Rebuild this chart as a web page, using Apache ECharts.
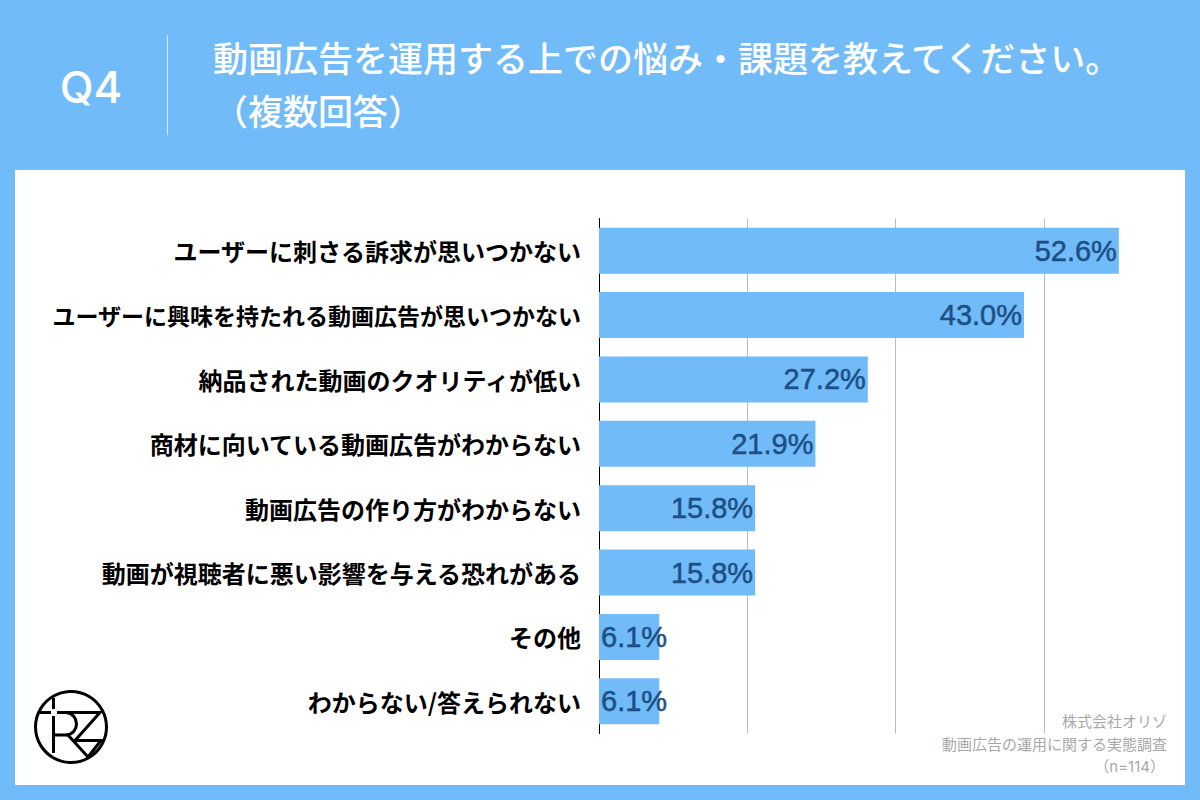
<!DOCTYPE html>
<html lang="ja">
<head>
<meta charset="utf-8">
<title>Q4</title>
<style>
html,body{margin:0;padding:0;background:#72bbf9;}
#drawChart{width:1200px;height:800px;}
</style>
<script src="https://cdn.jsdelivr.net/npm/echarts@6/dist/echarts.min.js"></script>
</head>
<body>
<div id="drawChart"></div>
<script>
//データ
var categories = [
    'ユーザーに刺さる訴求が思いつかない',
    'ユーザーに興味を持たれる動画広告が思いつかない',
    '納品された動画のクオリティが低い',
    '商材に向いている動画広告がわからない',
    '動画広告の作り方がわからない',
    '動画が視聴者に悪い影響を与える恐れがある',
    'その他',
    'わからない/答えられない'
];
var values = [52.6, 43.0, 27.2, 21.9, 15.8, 15.8, 6.1, 6.1];
var tickStep = 15;
var tickMax = 60;
var titleText = '動画広告を運用する上での悩み・課題を教えてください。\n（複数回答）';
var footLines = ['株式会社オリゾ', '動画広告の運用に関する実態調査', '（n=114）'];

var blue = '#72bbf9';
var cjk = '"Noto Sans CJK JP","Noto Sans",sans-serif';

var myChart = echarts.init(document.getElementById('drawChart'), null, {renderer: 'svg'});

//小さい棒はラベルを左寄せにする
var barData = values.map(function (v) {
    return {
        value: v,
        label: v < 10 ? {position: 'insideLeft', distance: 2} : {position: 'insideRight', distance: 2}
    };
});

var option = {
    backgroundColor: blue,
    animation: false,
    title: {
        text: titleText,
        left: 208,
        top: 25,
        textStyle: {color: '#fff', fontFamily: cjk, fontSize: 35, fontWeight: 500, lineHeight: 53}
    },
    grid: {left: 599, top: 218.5, width: 593, height: 515},
    xAxis: {
        type: 'value',
        min: 0,
        max: tickMax,
        interval: tickStep,
        axisLabel: {show: false},
        axisLine: {show: false},
        axisTick: {show: false},
        splitLine: {show: true, showMinLine: false, showMaxLine: false, lineStyle: {color: '#bcbcbc', width: 1}}
    },
    yAxis: {
        type: 'category',
        inverse: true,
        data: categories,
        axisLine: {lineStyle: {color: '#000', width: 1}},
        axisTick: {show: false},
        axisLabel: {
            color: '#000',
            fontFamily: cjk,
            fontSize: 24,
            fontWeight: 'bold',
            margin: 18,
            //一番長いラベルだけ少し小さい
            formatter: function (v) {
                return v.length > 22 ? '{tight|' + v + '}' : v;
            },
            rich: {
                tight: {color: '#000', fontFamily: cjk, fontSize: 23, fontWeight: 'bold'}
            }
        }
    },
    series: [{
        type: 'bar',
        data: barData,
        barWidth: 46,
        itemStyle: {color: blue},
        label: {
            show: true,
            color: '#1c4f86',
            fontFamily: '"Liberation Sans",sans-serif',
            fontSize: 29,
            textBorderColor: '#1c4f86',
            textBorderWidth: 0.5,
            formatter: function (p) { return p.value.toFixed(1) + '%'; }
        }
    }],
    graphic: [
        //白いカード
        {type: 'rect', z: -10, shape: {x: 15, y: 170, width: 1170, height: 615}, style: {fill: '#fff'}},
        {type: 'text', x: 91, y: 87, style: {text: 'Q4', fill: '#fff', font: '500 44px "Inter","Liberation Sans",sans-serif', textAlign: 'center', textVerticalAlign: 'middle'}},
        {type: 'line', shape: {x1: 167.5, y1: 35, x2: 167.5, y2: 135}, style: {stroke: '#d8ecfd', lineWidth: 1}},
        //注記
        {type: 'text', x: 1167, y: 720, style: {text: footLines[0], fill: '#a8a8a8', font: '15px ' + cjk, textAlign: 'right', textVerticalAlign: 'middle'}},
        {type: 'text', x: 1167, y: 743, style: {text: footLines[1], fill: '#a8a8a8', font: '15px ' + cjk, textAlign: 'right', textVerticalAlign: 'middle'}},
        {type: 'text', x: 1165, y: 766, style: {text: footLines[2], fill: '#a8a8a8', font: '15px "Inter",' + cjk, textAlign: 'right', textVerticalAlign: 'middle'}},
        //ロゴ
        {type: 'circle', shape: {cx: 71, cy: 727, r: 35.5}, style: {fill: 'none', stroke: '#000', lineWidth: 3}},
        {type: 'polyline', shape: {points: [[39, 712.5], [51, 712.5]]}, style: {stroke: '#000', lineWidth: 3, fill: 'none'}},
        {type: 'polyline', shape: {points: [[57, 712.5], [100, 712.5], [75, 740.5], [101, 740.5], [88, 757]]}, style: {stroke: '#000', lineWidth: 3, fill: 'none'}},
        {type: 'polyline', shape: {points: [[53.5, 698], [53.5, 709]]}, style: {stroke: '#000', lineWidth: 3, fill: 'none'}},
        {type: 'polyline', shape: {points: [[53.5, 716], [53.5, 753]]}, style: {stroke: '#000', lineWidth: 3, fill: 'none'}},
        {type: 'polyline', shape: {points: [[54, 735], [68, 735], [88, 757]]}, style: {stroke: '#000', lineWidth: 3, fill: 'none'}},
        {type: 'bezierCurve', shape: {x1: 66, y1: 712.5, cpx1: 80, cpy1: 714, cpx2: 80, cpy2: 734, x2: 66, y2: 735}, style: {stroke: '#000', lineWidth: 3, fill: 'none'}}
    ]
};
myChart.setOption(option);
</script>
</body>
</html>
